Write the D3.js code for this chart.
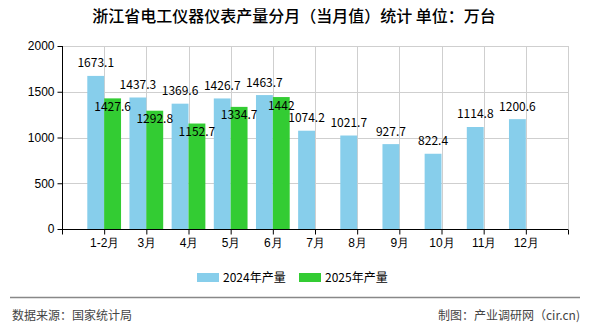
<!DOCTYPE html>
<html>
<head>
<meta charset="utf-8">
<script src="https://cdn.jsdelivr.net/npm/d3@7/dist/d3.min.js"></script>
<style>
  html, body { margin: 0; padding: 0; background: #fff; }
  svg { display: block; font-family: "Noto Sans CJK SC", "Noto Sans", sans-serif; }
</style>
</head>
<body>
<svg id="chart" width="590" height="330"></svg>
<script>
// Monthly output of electrical instruments in Zhejiang (10k units)
const months = ["1-2月", "3月", "4月", "5月", "6月", "7月", "8月", "9月", "10月", "11月", "12月"];
const values2024 = [1673.1, 1437.3, 1369.6, 1426.7, 1463.7, 1074.2, 1021.7, 927.7, 822.4, 1114.8, 1200.6];
const values2025 = [1427.6, 1292.8, 1152.7, 1334.7, 1442];
const yTicks = [0, 500, 1000, 1500, 2000];
const seriesNames = ["2024年产量", "2025年产量"];
const colors = ["#87CEEB", "#33CC33"];

const svg = d3.select("#chart");
const plot = { left: 62, right: 568, top: 46, bottom: 229 };

// Positions 0..12 along the axis; each month sits on a whole-number slot
const x = d3.scaleLinear().domain([0, 12]).range([plot.left, plot.right]);
const y = d3.scaleLinear().domain([0, 2000]).range([plot.bottom, plot.top]);
const barW = (x(1) - x(0)) * 0.4;

// Title
svg.append("text")
  .attr("x", 294).attr("y", 22)
  .attr("text-anchor", "middle")
  .attr("font-size", 16).attr("font-weight", 500).attr("fill", "#000")
  .text("浙江省电工仪器仪表产量分月（当月值）统计 单位：万台");

// Grid
const grid = svg.append("g").attr("stroke", "#cfcfcf").attr("stroke-width", 1);
yTicks.filter(t => t > 0).forEach(t => {
  grid.append("line").attr("x1", plot.left).attr("x2", plot.right)
    .attr("y1", Math.round(y(t)) + 0.5).attr("y2", Math.round(y(t)) + 0.5);
});
d3.range(1, 13).forEach(i => {
  grid.append("line").attr("y1", plot.top).attr("y2", plot.bottom)
    .attr("x1", Math.round(x(i)) + 0.5).attr("x2", Math.round(x(i)) + 0.5);
});

// Bars
const bars = svg.append("g");
bars.selectAll("rect.s2024").data(values2024).join("rect")
  .attr("class", "s2024")
  .attr("x", (d, i) => x(i + 1) - barW)
  .attr("width", barW)
  .attr("y", d => y(d))
  .attr("height", d => y(0) - y(d))
  .attr("fill", colors[0]);
bars.selectAll("rect.s2025").data(values2025).join("rect")
  .attr("class", "s2025")
  .attr("x", (d, i) => x(i + 1))
  .attr("width", barW)
  .attr("y", d => y(d))
  .attr("height", d => y(0) - y(d))
  .attr("fill", colors[1]);

// Value labels
const labels = svg.append("g").attr("font-size", 12).attr("fill", "#000").attr("text-anchor", "middle");
labels.selectAll("text.l2024").data(values2024).join("text")
  .attr("class", "l2024")
  .attr("x", (d, i) => x(i + 1) - barW / 2)
  .attr("y", d => y(d) - 8.5)
  .text(d => d);
labels.selectAll("text.l2025").data(values2025).join("text")
  .attr("class", "l2025")
  .attr("x", (d, i) => x(i + 1) + barW / 2)
  .attr("y", d => y(d) + 12.5)
  .text(d => d);

// Axes
const yAxis = d3.axisLeft(y).tickValues(yTicks).tickSize(5).tickPadding(3).tickFormat(d3.format("d"));
const gy = svg.append("g").attr("transform", `translate(${plot.left + 0.5},0)`).call(yAxis);
gy.selectAll("text").attr("font-size", 12).attr("fill", "#000").style("font-family", "inherit");
gy.selectAll("line, path").attr("stroke", "#000");
gy.select(".domain").attr("d", `M0,${plot.top}V${plot.bottom}`);

const xAxis = d3.axisBottom(x).tickValues(d3.range(0, 13)).tickSize(5).tickPadding(4)
  .tickFormat(i => (i >= 1 ? months[i - 1] : ""));
const gx = svg.append("g").attr("transform", `translate(0,${plot.bottom + 0.5})`).call(xAxis);
gx.selectAll("text").attr("font-size", 12).attr("fill", "#000").style("font-family", "inherit");
gx.selectAll("line, path").attr("stroke", "#000");
gx.select(".domain").attr("d", `M${plot.left},0H${plot.right}`);

// Legend
const legendX = [197, 299];
seriesNames.forEach((name, i) => {
  svg.append("rect").attr("x", legendX[i]).attr("y", 273).attr("width", 22).attr("height", 9).attr("fill", colors[i]);
  svg.append("text").attr("x", legendX[i] + 26).attr("y", 282)
    .attr("font-size", 12).attr("fill", "#000").text(name);
});

// Footer
svg.append("line").attr("x1", 10).attr("x2", 580).attr("y1", 297.5).attr("y2", 297.5)
  .attr("stroke", "#888").attr("stroke-width", 1.5);
svg.append("text").attr("x", 12).attr("y", 320).attr("font-size", 12).attr("fill", "#444")
  .text("数据来源：国家统计局");
svg.append("text").attr("x", 580).attr("y", 320).attr("font-size", 12).attr("fill", "#444")
  .attr("text-anchor", "end").text("制图：产业调研网（cir.cn)");
</script>
</body>
</html>
